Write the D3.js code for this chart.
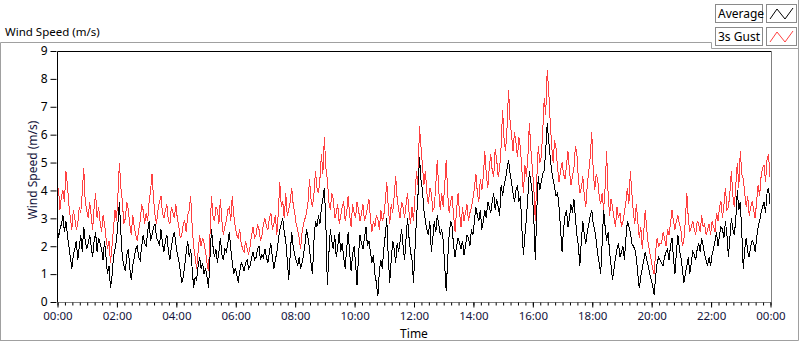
<!DOCTYPE html>
<html><head><meta charset="utf-8">
<script src="https://cdn.jsdelivr.net/npm/d3@7"></script>
<style>
html,body{margin:0;padding:0;background:#fff;}
svg{display:block;font-family:"Noto Sans","Open Sans",sans-serif;}
</style></head>
<body>
<svg id="c" width="800" height="342"></svg>
<script>
// ---- data (readings every 3 minutes, 00:00 .. 24:00), one row per hour ----
const sampleStepHours = 0.05;
const gust = [
3.7,4.1,3.3,3.8,4.0,3.6,4.7,4.2,3.5,3.0,2.6,3.3,3.0,2.6,2.8,3.4,3.2,3.9,4.8,3.6,
3.3,3.0,3.6,3.1,2.6,3.4,3.9,3.0,3.4,2.9,2.5,3.1,2.8,2.3,1.9,2.2,1.4,2.0,2.6,3.3,
2.9,3.8,5.0,4.1,3.6,2.8,3.0,3.6,3.3,2.8,2.4,3.1,2.7,2.4,2.2,2.6,2.9,3.5,3.3,2.8,
3.2,2.9,3.6,4.0,4.6,3.7,3.1,2.8,3.3,3.6,3.8,3.2,3.0,3.3,3.5,2.9,2.8,3.4,3.2,3.0,
3.5,3.0,2.7,2.3,2.4,2.8,2.9,2.5,3.1,3.3,3.8,2.7,2.0,1.6,1.2,1.8,2.4,2.0,2.3,2.1,
1.8,1.4,1.1,2.4,3.8,3.1,2.9,3.4,3.3,2.8,3.7,2.9,2.4,2.7,2.9,3.3,3.4,2.9,3.8,3.1,
2.7,2.4,2.3,2.6,2.1,1.9,1.8,2.2,1.9,1.7,2.0,2.4,2.7,2.3,2.4,2.8,2.6,2.2,2.4,2.8,
3.0,2.7,2.6,3.0,3.2,2.6,2.8,3.1,2.4,3.2,4.3,3.4,3.6,3.0,3.9,3.1,3.3,3.6,4.1,3.5,
3.2,2.8,2.6,2.3,1.9,2.5,2.8,3.0,3.2,3.6,4.4,3.7,3.4,3.9,4.7,4.1,3.9,4.4,5.3,4.6,
5.9,4.8,4.4,3.6,3.3,3.9,3.7,3.0,3.2,3.5,2.8,3.1,3.4,3.6,2.9,3.2,3.8,3.1,2.7,3.5,
3.2,3.0,3.6,3.3,2.9,3.2,3.5,2.9,3.1,3.4,3.7,3.0,2.5,2.9,2.7,3.1,3.0,2.6,3.3,2.9,
3.1,3.6,4.3,3.4,2.8,3.5,3.2,3.8,4.5,3.7,3.3,3.0,3.6,3.4,3.0,3.5,3.9,3.2,2.8,3.4,
2.9,3.8,4.7,4.2,6.3,5.6,4.9,4.2,4.7,3.9,3.5,4.1,3.9,3.3,3.4,4.2,5.1,4.0,3.3,3.9,
3.4,4.2,5.1,3.9,3.2,3.6,3.8,3.1,2.5,3.3,3.9,3.2,2.7,3.4,2.9,3.2,3.5,2.9,3.2,3.4,
3.7,4.1,4.6,3.9,3.6,4.4,4.0,4.5,5.4,4.6,4.1,4.8,5.3,4.7,4.5,5.5,5.1,4.5,4.8,5.6,
6.9,5.8,5.4,6.3,7.6,6.5,6.0,5.4,6.1,5.7,5.2,5.9,5.5,4.7,3.9,4.9,4.5,5.2,6.4,5.5,
4.8,4.1,2.9,4.4,5.6,5.0,5.2,6.1,7.3,6.7,8.3,7.6,6.5,5.6,5.0,5.8,5.5,4.8,4.3,4.7,
5.0,4.6,4.4,4.9,5.4,4.7,4.2,4.5,4.8,5.6,5.3,4.4,3.9,4.1,4.5,3.8,3.4,4.2,4.7,5.2,
6.1,4.7,4.0,4.6,4.4,3.8,3.5,3.9,3.3,4.1,5.4,3.9,3.1,3.7,3.4,3.0,2.7,3.4,3.0,3.2,
2.7,2.9,3.2,3.6,4.1,3.5,4.7,3.9,3.2,2.8,3.5,2.9,2.3,2.7,1.9,2.5,3.3,2.6,2.1,1.8,
1.5,1.2,1.0,1.8,2.3,2.0,2.1,2.1,2.5,2.3,2.0,2.6,2.4,2.8,3.3,2.9,2.6,2.9,3.1,2.8,
2.6,2.0,2.2,2.9,3.9,3.0,2.5,2.7,2.9,2.6,2.4,2.9,2.8,2.5,3.1,2.7,2.8,2.4,2.6,2.8,
2.4,2.9,2.7,2.5,3.2,2.9,3.4,3.6,3.0,3.5,4.1,3.3,3.4,3.9,4.7,3.8,3.4,4.2,5.0,4.1,
5.4,4.6,4.4,3.9,3.4,3.8,3.1,3.4,3.6,3.3,3.0,3.6,4.2,3.8,4.5,4.8,4.9,4.3,5.1,5.3,
4.5
];
const average = [
2.9,2.3,2.6,2.8,3.1,2.5,2.9,2.4,2.0,1.6,1.2,1.7,1.9,2.2,1.5,2.0,2.4,1.8,2.7,2.2,
1.9,2.1,2.4,2.0,1.6,2.2,2.5,1.8,2.3,2.1,1.9,1.5,2.2,1.6,1.0,1.3,0.5,0.9,1.6,1.9,
2.2,2.8,3.6,2.5,1.6,1.3,1.1,1.7,1.9,1.2,0.8,1.3,1.6,1.9,2.0,1.6,1.5,2.0,2.4,2.1,
2.0,2.5,2.9,2.2,2.4,2.7,2.8,2.3,2.2,2.0,2.6,2.1,1.8,2.2,2.4,1.8,1.5,2.0,2.3,2.5,
2.1,1.7,1.5,1.1,0.7,0.9,1.3,1.8,2.2,1.6,1.9,1.2,0.5,0.9,0.8,1.3,1.6,1.2,1.4,1.0,
1.2,0.9,0.5,1.6,2.6,2.0,1.6,1.9,1.4,1.8,2.3,1.7,1.5,1.9,1.8,2.1,2.5,1.9,1.4,1.0,
1.2,1.0,0.7,1.1,1.4,1.3,1.1,1.4,1.5,1.2,1.3,1.6,1.8,1.5,1.6,1.9,2.0,1.5,1.7,1.6,
1.9,1.6,1.4,1.8,2.1,1.6,1.2,1.5,1.8,2.2,2.6,2.8,3.0,2.5,2.2,1.5,0.8,1.7,2.5,2.0,
1.7,1.5,1.3,1.6,1.2,1.4,1.7,2.1,2.6,2.3,1.9,1.4,1.0,2.2,2.9,2.7,3.1,2.8,3.4,3.7,
4.1,2.8,0.6,1.7,2.6,2.2,1.9,2.4,1.6,2.0,2.5,1.8,2.1,1.6,1.2,1.9,2.5,1.8,1.1,1.7,
2.0,1.4,0.6,1.7,2.4,2.1,1.9,2.3,2.7,2.0,2.2,1.8,1.4,1.7,1.0,0.7,0.2,1.1,1.5,1.2,
1.9,2.4,3.0,1.6,0.7,1.5,2.2,1.9,1.4,2.1,1.8,2.2,2.6,2.0,1.5,2.3,3.0,2.3,1.8,1.5,
0.7,1.9,3.0,3.8,5.2,4.4,4.0,3.3,2.9,2.6,2.4,2.9,1.8,2.3,2.9,2.5,3.1,2.8,2.4,2.6,
2.2,1.3,0.4,1.5,2.4,2.9,2.7,2.0,1.6,2.0,2.3,2.1,1.9,2.2,1.7,2.0,2.4,2.3,2.0,2.6,
2.4,2.9,3.4,3.1,2.9,3.3,2.6,2.9,3.3,3.0,3.6,3.4,3.2,3.6,3.9,3.3,3.7,3.4,3.1,4.2,
3.8,4.2,4.4,4.8,5.1,4.6,4.3,3.9,3.6,4.0,4.2,3.6,3.8,2.6,1.7,2.4,3.0,3.8,4.7,4.3,
3.9,3.0,1.5,3.3,4.5,4.0,4.3,4.6,4.7,5.4,6.4,5.8,5.2,4.7,4.4,4.1,3.8,3.9,3.4,2.6,
1.8,2.6,3.1,3.3,2.7,3.0,3.5,3.2,3.7,3.0,2.4,2.0,1.3,2.2,2.9,2.4,2.1,2.5,2.8,3.1,
3.3,2.8,2.6,2.2,1.7,1.4,1.0,2.1,3.3,2.7,2.2,2.5,1.8,1.3,0.8,1.2,1.6,1.9,2.1,1.6,
1.8,2.0,1.5,2.3,2.9,2.7,2.5,2.1,2.0,1.9,1.6,1.0,0.5,0.9,1.2,1.5,1.8,1.5,1.3,1.0,
0.8,0.6,0.25,0.9,1.4,1.6,1.5,1.4,1.3,1.6,1.8,1.9,1.5,2.0,2.3,1.6,1.0,1.8,2.4,1.9,
1.6,1.2,0.7,1.0,1.3,1.6,1.0,1.4,1.8,1.7,1.5,1.9,2.1,1.8,2.3,2.0,1.7,1.5,1.3,1.6,
1.3,1.7,1.9,2.2,2.5,2.0,2.4,2.7,2.6,2.3,2.9,2.4,1.6,2.3,3.0,2.6,2.4,3.0,4.0,3.3,
3.6,2.5,1.2,1.9,2.3,1.8,1.6,2.0,2.2,2.1,1.8,2.3,2.7,2.9,3.2,3.4,3.6,3.2,3.9,4.1,
3.5
];
const xTickHours = [0,2,4,6,8,10,12,14,16,18,20,22,24];
const xTickLabels = ["00:00","02:00","04:00","06:00","08:00","10:00","12:00","14:00","16:00","18:00","20:00","22:00","00:00"];
const yTicks = [0,1,2,3,4,5,6,7,8,9];
const seriesNames = ["Average","3s Gust"];
const seriesColors = ["#000000","#ff4040"];

// ---- drawing ----
const svg = d3.select("#c");
const L = 57, R = 771, T = 51, B = 302;
const x = d3.scaleLinear().domain([0,24]).range([L, R-1]);
const y = d3.scaleLinear().domain([0,9]).range([B, T]);

// outer frame
svg.append("path")
  .attr("d","M0.5,341 V42.5 H711.5 V48.5 H798.5 M798.5,0 V340.5 H0.5")
  .attr("fill","none").attr("stroke","#a0a0a0");

// title
svg.append("text").attr("x",5).attr("y",36).attr("font-size",11.5).attr("fill","#000")
  .text("Wind Speed (m/s)");

// plot background
svg.append("rect").attr("x",L).attr("y",T).attr("width",R-L).attr("height",B-T).attr("fill","#fff");

// lines (aliased, like the original instrument display)
svg.append("clipPath").attr("id","pc").append("rect")
  .attr("x",L+1).attr("y",T+1).attr("width",R-L-1).attr("height",B-T-1);
const line = d3.line().x((d,i)=>x(i*sampleStepHours)).y(d=>y(d));
const g = svg.append("g").attr("clip-path","url(#pc)");
g.append("path").datum(gust).attr("d",line).attr("fill","none").attr("stroke",seriesColors[1])
  .attr("stroke-width",1).attr("shape-rendering","crispEdges");
g.append("path").datum(average).attr("d",line).attr("fill","none").attr("stroke",seriesColors[0])
  .attr("stroke-width",1).attr("shape-rendering","crispEdges");

// plot frame
svg.append("path").attr("d",`M${L+0.5},${B} V${T+0.5} H${R+0.5}`).attr("fill","none").attr("stroke","#000");
svg.append("path").attr("d",`M${R+0.5},${T+0.5} V${B+0.5} H${L}`).attr("fill","none").attr("stroke","#808080");

// y axis
const yAxis = d3.axisLeft(y).tickValues(yTicks).tickSize(6).tickPadding(3).tickFormat(d3.format("d"));
const ya = svg.append("g").attr("transform",`translate(${L-0.5},0)`).call(yAxis);
ya.select(".domain").remove();
ya.selectAll("line").attr("stroke","#000");
ya.selectAll("text").attr("font-size",12).attr("fill","#000").attr("font-family","Noto Sans");

// x axis: minor ticks every 15 min, labelled major ticks every 2 h
const minor = d3.range(0, 24.001, 0.25);
const xMinor = d3.axisBottom(x).tickValues(minor).tickSize(3).tickFormat("");
const xm = svg.append("g").attr("transform",`translate(0.5,${B+0.5})`).call(xMinor);
xm.select(".domain").remove();
xm.selectAll("line").attr("stroke","#000");
const xAxis = d3.axisBottom(x).tickValues(xTickHours).tickSize(5).tickPadding(4)
  .tickFormat((d,i)=>xTickLabels[i]);
const xa = svg.append("g").attr("transform",`translate(0.5,${B+0.5})`).call(xAxis);
xa.select(".domain").remove();
xa.selectAll("line").attr("stroke","#000");
xa.selectAll("text").attr("font-size",11.5).attr("fill","#14143c").attr("font-family","Noto Sans");

// axis titles
svg.append("text").attr("x",(L+R)/2).attr("y",338).attr("text-anchor","middle")
  .attr("font-size",12).attr("fill","#000").text("Time");
svg.append("text").attr("transform","translate(37,170) rotate(-90)").attr("text-anchor","middle")
  .attr("font-size",12).attr("fill","#14143c").text("Wind Speed (m/s)");

// legend
const leg = svg.append("g");
seriesNames.forEach((name,i)=>{
  const y0 = 4 + i*23;
  leg.append("rect").attr("x",715.5).attr("y",y0+0.5).attr("width",47).attr("height",18)
    .attr("fill","#fff").attr("stroke","#8a8a8a");
  leg.append("text").attr("x",718).attr("y",y0+14).attr("font-size",12).attr("fill","#000").text(name);
  leg.append("rect").attr("x",766.5).attr("y",y0+0.5).attr("width",30).attr("height",18)
    .attr("fill","#fff").attr("stroke","#8a8a8a");
  leg.append("path").attr("d",`M770,${y0+15} L777,${y0+5} L785,${y0+15} L793,${y0+4}`)
    .attr("fill","none").attr("stroke",seriesColors[i]);
});
</script>
</body></html>
